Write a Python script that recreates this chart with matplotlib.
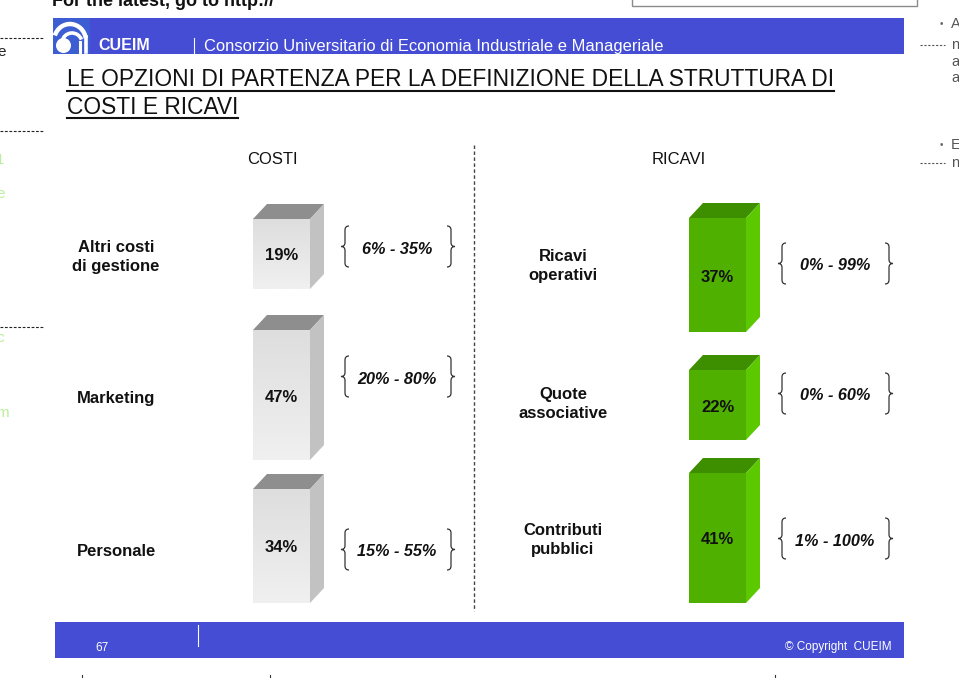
import numpy as np
import matplotlib
matplotlib.use("Agg")
import matplotlib.pyplot as plt
from matplotlib.patches import Rectangle, Polygon, Circle, Arc, PathPatch
from matplotlib.path import Path

plt.rcParams['font.family'] = ['Liberation Sans', 'DejaVu Sans']

# data
cost_labels = ["Altri costi\ndi gestione", "Marketing", "Personale"]
cost_values = [19, 47, 34]
cost_ranges = [(6, 35), (20, 80), (15, 55)]

rev_labels = ["Ricavi\noperativi", "Quote\nassociative", "Contributi\npubblici"]
rev_values = [37, 22, 41]
rev_ranges = [(0, 99), (0, 60), (1, 100)]

header_text = "Consorzio Universitario di Economia Industriale e Manageriale"
title_lines = ["LE OPZIONI DI PARTENZA PER LA DEFINIZIONE DELLA STRUTTURA DI",
               "COSTI E RICAVI"]
page_num = "67"

BLUE = '#444dd4'
W, H = 959, 678

fig = plt.figure(figsize=(W / 100, H / 100), dpi=100)
ax = fig.add_axes([0, 0, 1, 1])
ax.set_xlim(0, W)
ax.set_ylim(H, 0)
ax.axis('off')

# --- top slide chrome
ax.text(52, 6, "For the latest, go to http://", fontsize=13, fontweight='bold',
        va='baseline', ha='left', color='#111')
ax.add_patch(Rectangle((632, -10), 285, 16, fill=False, ec='#8a8a8a', lw=1))

ax.add_patch(Rectangle((53, 18), 851, 36, color=BLUE, lw=0))
ax.add_patch(Rectangle((53, 18), 37, 36, color='#3d5ed2', lw=0))
# logo
ax.add_patch(Circle((63.5, 45.5), 7.5, color='white', lw=0))
ax.add_patch(Arc((70, 41), 32, 34, theta1=200, theta2=350, color='white', lw=3.2))
ax.add_patch(Arc((72, 43), 20, 20, theta1=190, theta2=340, color='white', lw=2.6))
ax.plot([86, 86], [37, 52], color='white', lw=2.6)
ax.plot([80, 80], [42, 52], color='white', lw=2.2)
ax.text(98, 45.5, "CUEIM", fontsize=11.5, fontweight='heavy', color='white',
        va='center', ha='left')
ax.plot([194, 194], [38, 54], color='white', lw=0.8)
ax.text(204, 46.5, header_text, fontsize=11.9, color='white', va='center', ha='left')

# title with underline
title_y = [80, 107]
for line, yy in zip(title_lines, title_y):
    t = ax.text(67, yy, line, fontsize=16.4, color='#111', va='center', ha='left')
    fig.canvas.draw()
    bb = t.get_window_extent().transformed(ax.transData.inverted())
    ax.plot([bb.x0, bb.x1], [yy + 11, yy + 11], color='#111', lw=1.5)

# section headings and divider
ax.text(272, 160, "COSTI", fontsize=12, va='center', ha='center', color='#111')
ax.text(679, 160, "RICAVI", fontsize=12, va='center', ha='center', color='#111')
ax.plot([474, 474], [145, 611], color='#444', lw=1, ls=(0, (2.5, 1.8)))

# --- bars
rank_heights = [70, 114, 130]   # drawn height by rank of value in its column
DX, DY = 14, 15


def brace(x, y0, y1, s):
    d = 4
    ym = (y0 + y1) / 2
    verts = [(x + s * d, y0), (x, y0), (x, y0 + d), (x, ym - d),
             (x, ym), (x - s * d, ym), (x, ym), (x, ym + d),
             (x, y1 - d), (x, y1), (x + s * d, y1)]
    codes = [Path.MOVETO, Path.CURVE3, Path.CURVE3, Path.LINETO,
             Path.CURVE3, Path.CURVE3, Path.CURVE3, Path.CURVE3,
             Path.LINETO, Path.CURVE3, Path.CURVE3]
    ax.add_patch(PathPatch(Path(verts, codes), fill=False, ec='#333', lw=0.9))


def column(labels, values, ranges, centers, label_y, brace_y, x0, width, colors,
           label_x, range_x, brace_x, gradient):
    ranks = np.argsort(np.argsort(values))
    heights = np.array([rank_heights[r] for r in ranks])
    bottoms = np.array(centers) + heights / 2
    bars = ax.bar([x0] * len(values), -heights, bottom=bottoms, width=width,
                  align='edge', color=colors[0], lw=0, zorder=2)
    for i, bar in enumerate(bars):
        c, h, b = centers[i], heights[i], bottoms[i]
        top = b - h
        x1 = x0 + width
        if gradient:
            grad = np.linspace(0, 1, 50).reshape(-1, 1)
            im = ax.imshow(grad, cmap=matplotlib.colors.LinearSegmentedColormap.from_list(
                'g', ['#dedede', '#f0f0f0']), extent=(x0, x1, b, top),
                aspect='auto', zorder=2.1)
            im.set_clip_path(bar)
        ax.add_patch(Polygon([(x0, top), (x0 + DX, top - DY), (x1 + DX, top - DY),
                              (x1, top)], color=colors[1], lw=0, zorder=2))
        ax.add_patch(Polygon([(x1, top), (x1 + DX, top - DY), (x1 + DX, b - DY),
                              (x1, b)], color=colors[2], lw=0, zorder=2))
        ax.text(x0 + width / 2, c + 2, f"{values[i]}%", fontsize=12,
                fontweight='bold', ha='center', va='center', color='#111', zorder=3)
        ax.text(label_x, label_y[i], labels[i], fontsize=12, fontweight='bold',
                ha='center', va='center', linespacing=1.3, color='#111')
        ry = brace_y[i]
        rg = ranges[i]
        ax.text(range_x, ry + 2, f"{rg[0]}% - {rg[1]}%", fontsize=11.7,
                fontweight='bold', style='italic', ha='center', va='center',
                color='#111')
        brace(brace_x[0], ry - 21, ry + 20, 1)
        brace(brace_x[1], ry - 21, ry + 20, -1)


column(cost_labels, cost_values, cost_ranges, [254, 395, 546], [257, 399, 552],
       [247, 377, 550], 253, 57, ['#e8e8e8', '#8e8e8e', '#c2c2c2'],
       116, 397, (345, 451), True)
column(rev_labels, rev_values, rev_ranges, [275, 405, 538], [266, 404, 540],
       [264, 394, 539], 689, 57, ['#4fb000', '#3e8f00', '#5bc800'],
       563, 835, (782, 889), False)

# --- footer
ax.add_patch(Rectangle((55, 622), 849, 36, color=BLUE, lw=0))
ax.text(102, 648, page_num, fontsize=8.5, color='white', ha='center', va='center')
ax.plot([198, 198], [625, 646], color='white', lw=0.8)
ax.text(892, 647, "\u00a9 Copyright  CUEIM", fontsize=8.5, color='white',
        ha='right', va='center')
for xm in [82, 270, 775]:
    ax.plot([xm, xm], [675, 678], color='#333', lw=0.8)

# --- fragments of neighbouring slides at the edges
for yy in [38, 131, 327]:
    ax.plot([0, 44], [yy, yy], color='#222', lw=0.8, ls=(0, (2.5, 1.5)))
ax.text(-3, 52, "e", fontsize=11, color='#222', va='center', ha='left')
for yy, ch in [(160, "1"), (194, "e"), (338, "c"), (380, "i"), (413, "m")]:
    ax.text(-4, yy, ch, fontsize=11, color='#b8ef9c', va='center', ha='left')
ax.text(940, 24, "\u2022", fontsize=7, color='#666', va='center', ha='left')
ax.text(951, 24, "A", fontsize=10.5, color='#555', va='center', ha='left')
ax.plot([920, 945], [45, 45], color='#555', lw=0.8, ls=(0, (2, 1.5)))
for yy, ch in [(45, "n"), (62, "a"), (78, "a")]:
    ax.text(951, yy, ch, fontsize=10.5, color='#555', va='center', ha='left')
ax.text(940, 145, "\u2022", fontsize=7, color='#666', va='center', ha='left')
ax.text(951, 145, "E", fontsize=10.5, color='#555', va='center', ha='left')
ax.plot([920, 945], [163, 163], color='#555', lw=0.8, ls=(0, (2, 1.5)))
ax.text(951, 163, "n", fontsize=10.5, color='#555', va='center', ha='left')

fig.savefig("out.png", dpi=100)
